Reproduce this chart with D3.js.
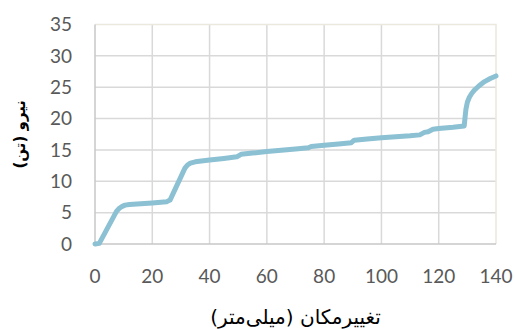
<!DOCTYPE html>
<html>
<head>
<meta charset="utf-8">
<script src="https://cdnjs.cloudflare.com/ajax/libs/d3/7.8.5/d3.min.js"></script>
<style>
  body { margin: 0; background: #fff; }
</style>
</head>
<body>
<div id="chart"></div>
<script>
(function () {
  var width = 515,
    height = 329;

  // data
  var disp = [0, 1.5, 7.5, 8.5, 9.5, 10.5, 12, 20, 25, 26.2, 31.4, 32.3, 33.3, 35, 40, 45, 49.5, 51, 55, 60, 65, 70, 74.5, 75.5, 80, 85, 89.5, 90.5, 95, 100, 105, 110, 113.4, 115, 116.3, 118, 120, 125, 128.9, 129.2, 129.5, 130, 130.7, 131.5, 132.6, 134, 136, 138, 140];
  var force = [0, 0.1, 5.2, 5.7, 6.0, 6.2, 6.3, 6.55, 6.75, 7.0, 12.1, 12.6, 12.9, 13.1, 13.4, 13.65, 13.9, 14.3, 14.5, 14.75, 14.95, 15.15, 15.35, 15.55, 15.75, 15.95, 16.15, 16.55, 16.75, 16.95, 17.1, 17.25, 17.4, 17.8, 17.9, 18.3, 18.4, 18.6, 18.8, 20.2, 21.5, 22.6, 23.4, 24.0, 24.6, 25.2, 25.9, 26.4, 26.8];
  var xTicks = [0, 20, 40, 60, 80, 100, 120, 140];
  var yTicks = [0, 5, 10, 15, 20, 25, 30, 35];
  var xTitle = "تغییرمکان (میلی‌متر)";
  var yTitle = "نیرو (تن)";

  var left = 95, right = 496, top = 24.5, bottom = 244;

  var svg = d3.select("#chart")
    .append("svg")
    .attr("width", width)
    .attr("height", height)

  var x = d3.scaleLinear().domain([0, 140]).range([left, right])
  var y = d3.scaleLinear().domain([0, 35]).range([bottom, top])

  // grid
  svg.selectAll(".vgrid")
    .data(xTicks.slice(1, -1))
    .enter().append("line")
    .attr("x1", d => x(d)).attr("x2", d => x(d))
    .attr("y1", top).attr("y2", bottom)
    .attr("stroke", "#d9d9d9")
    .attr("stroke-width", 1.5)

  svg.selectAll(".hgrid")
    .data(yTicks.slice(1, -1))
    .enter().append("line")
    .attr("x1", left).attr("x2", right)
    .attr("y1", d => y(d)).attr("y2", d => y(d))
    .attr("stroke", "#d9d9d9")
    .attr("stroke-width", 1.5)

  // top + right border (beige)
  svg.append("path")
    .attr("d", "M" + left + "," + top + "H" + right + "V" + bottom)
    .attr("fill", "none")
    .attr("stroke", "#ebe8de")
    .attr("stroke-width", 1.5)

  // axes lines
  svg.append("path")
    .attr("d", "M" + left + "," + top + "V" + bottom + "H" + right)
    .attr("fill", "none")
    .attr("stroke", "#c8c8c8")
    .attr("stroke-width", 1.5)

  // tick labels
  svg.selectAll(".ylab")
    .data(yTicks)
    .enter().append("text")
    .attr("x", 72)
    .attr("y", d => y(d))
    .attr("dy", "0.36em")
    .attr("text-anchor", "end")
    .attr("fill", "#595959")
    .style("font-family", "Lato, sans-serif")
    .style("font-size", "19px")
    .text(d => d)

  svg.selectAll(".xlab")
    .data(xTicks)
    .enter().append("text")
    .attr("x", d => x(d))
    .attr("y", 283)
    .attr("text-anchor", "middle")
    .attr("fill", "#595959")
    .style("font-family", "Lato, sans-serif")
    .style("font-size", "19px")
    .text(d => d)

  // titles
  svg.append("text")
    .attr("x", (left + right) / 2)
    .attr("y", 324)
    .attr("text-anchor", "middle")
    .attr("direction", "rtl")
    .attr("fill", "#000")
    .style("font-family", "'DejaVu Sans', sans-serif")
    .style("font-size", "20px")
    .text(xTitle)

  svg.append("text")
    .attr("transform", "translate(25," + ((top + bottom) / 2) + ") rotate(-90)")
    .attr("text-anchor", "middle")
    .attr("direction", "rtl")
    .attr("fill", "#000")
    .style("font-family", "'DejaVu Sans', sans-serif")
    .style("font-size", "15px")
    .style("font-weight", "bold")
    .text(yTitle)

  // the curve
  var pts = disp.map((d, i) => [d, force[i]])
  var line = d3.line()
    .x(d => x(d[0]))
    .y(d => y(d[1]))

  svg.append("path")
    .datum(pts)
    .attr("d", line)
    .attr("fill", "none")
    .attr("stroke", "#8cc0d3")
    .attr("stroke-width", 5)
    .attr("stroke-linejoin", "round")
    .attr("stroke-linecap", "round")
})()
</script>
</body>
</html>
